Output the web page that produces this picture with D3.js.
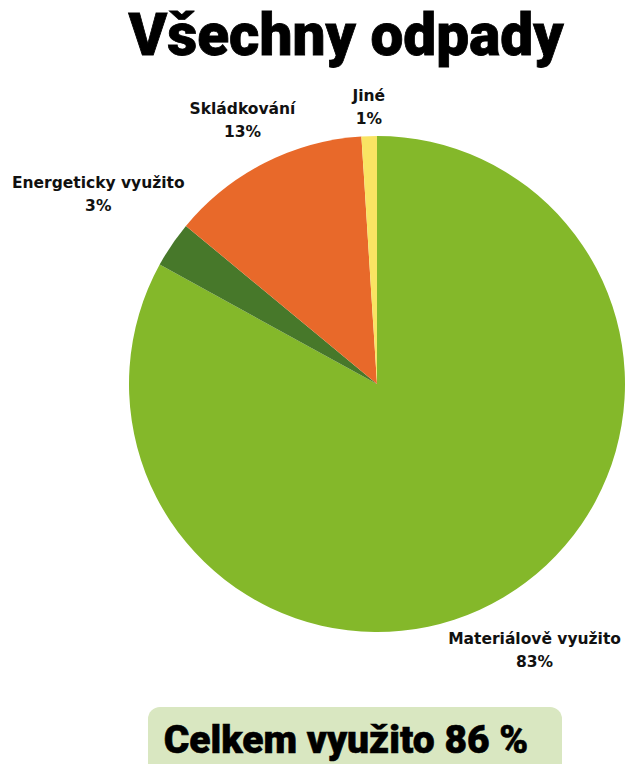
<!DOCTYPE html>
<html><head><meta charset="utf-8">
<script src="https://cdn.jsdelivr.net/npm/d3@7"></script>
<style>
html,body{margin:0;padding:0;background:#fff;}
svg{display:block;}
text{font-family:Roboto,"Noto Sans",sans-serif;fill:#111;}
</style></head>
<body>
<svg id="c" width="626" height="764"></svg>
<script>
const title = "Všechny odpady";
const categories = ["Materiálově využito", "Energeticky využito", "Skládkování", "Jiné"];
const values = [83, 3, 13, 1];
const colors = ["#84b82a", "#47782a", "#e8692a", "#f9e463"];
const totalText = "Celkem využito 86 %";

const svg = d3.select("#c");
const cx = 377, cy = 384, R = 248, gap = 8;

svg.append("text").attr("x", 346).attr("y", 55).attr("text-anchor", "middle")
  .style("font-size", "58.5px").style("font-weight", 900).style("fill", "#000")
  .style("stroke", "#000").style("stroke-width", 0.8).text(title);

const pie = d3.pie().sort(null).value(d => d.v);
const arcs = pie(categories.map((c, i) => ({c, v: values[i], col: colors[i]})));
const arc = d3.arc().innerRadius(0).outerRadius(R);

const g = svg.append("g").attr("transform", `translate(${cx},${cy})`);
g.selectAll("path").data(arcs).join("path").attr("d", arc).attr("fill", d => d.data.col);

// labels placed just outside the rim along the slice's middle angle
const lg = g.append("g");
arcs.forEach(d => {
  const t = lg.append("text").attr("text-anchor", "middle")
    .style("font-family", "'DejaVu Sans',sans-serif")
    .style("font-size", "15.5px").style("font-weight", 700);
  t.append("tspan").attr("x", 0).attr("dy", 0).text(d.data.c);
  t.append("tspan").attr("x", 0).attr("dy", 23).text(d.data.v + "%");
  const bb = t.node().getBBox();
  const a = (d.startAngle + d.endAngle) / 2;
  const ux = Math.sin(a), uy = -Math.cos(a);
  const nearest = (px, py) => {
    const x0 = px + bb.x, x1 = x0 + bb.width, y0 = py + bb.y, y1 = y0 + bb.height;
    const nx = Math.max(x0, Math.min(0, x1)), ny = Math.max(y0, Math.min(0, y1));
    return Math.hypot(nx, ny);
  };
  let lo = 0, hi = 600;
  for (let k = 0; k < 50; k++) {
    const m = (lo + hi) / 2;
    const ox = ux * m - (bb.x + bb.width / 2), oy = uy * m - (bb.y + bb.height / 2);
    if (nearest(ox, oy) < R + gap) lo = m; else hi = m;
  }
  const ox = ux * hi - (bb.x + bb.width / 2), oy = uy * hi - (bb.y + bb.height / 2);
  t.attr("transform", `translate(${ox},${oy})`);
});

svg.append("rect").attr("x", 148).attr("y", 707).attr("width", 414).attr("height", 80)
  .attr("rx", 12).attr("fill", "#d9e7c1");
svg.append("text").attr("x", 346).attr("y", 753).attr("text-anchor", "middle")
  .style("font-size", "39px").style("font-weight", 900).style("fill", "#000")
  .style("stroke", "#000").style("stroke-width", 0.6).text(totalText);
</script>
</body></html>
